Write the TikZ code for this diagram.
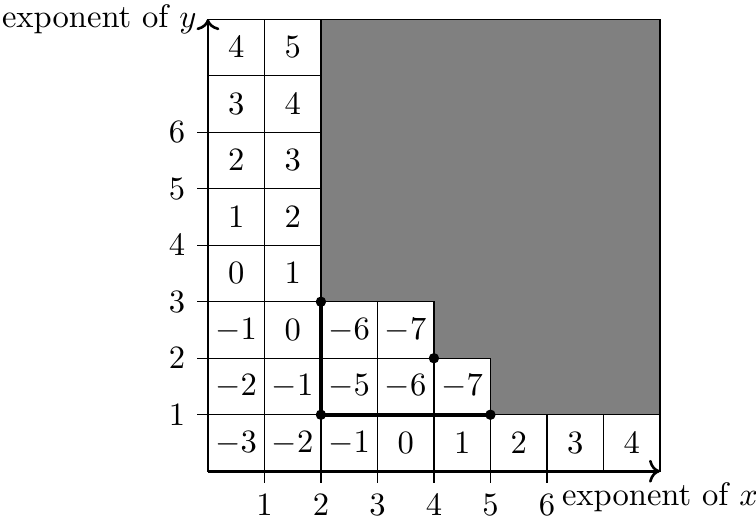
\documentclass[tikz,border=0pt]{standalone}
\usepackage{amsmath,amssymb}
\usetikzlibrary{arrows.meta, calc}

\begin{document}
\begin{tikzpicture}[x=0.61cm, y=0.61cm,
    cell/.style={draw, minimum size=0.61cm, inner sep=0pt},
    dot/.style={circle, fill, inner sep=0pt, minimum size=3.2pt}]
  \useasboundingbox (-3.68,-0.81) rectangle (9.70,8.34);

  % Shaded region
  \fill[gray] (2,8) -- (8,8) -- (8,1) -- (5,1) -- (5,2) -- (4,2) -- (4,3)
    -- (2,3) -- cycle;
  \draw (2,8) -- (8,8) -- (8,0);

  % Cells along the axes
  \foreach \y in {0,...,7} {
    \foreach \x in {0,1} {
      \pgfmathtruncatemacro{\v}{\x+\y-3}
      \node[cell] (c\x\y) at (\x+0.5,\y+0.5) {$\v$};
    }
  }
  \foreach \x in {2,...,7} {
    \pgfmathtruncatemacro{\v}{\x-3}
    \node[cell] (c\x0) at (\x+0.5,0.5) {$\v$};
  }
  % Inner cells
  \foreach \x/\y/\v in {2/1/-5, 3/1/-6, 4/1/-7, 2/2/-6, 3/2/-7}
    \node[cell] (c\x\y) at (\x+0.5,\y+0.5) {$\v$};

  % Axes
  \coordinate (O) at (0,0);
  \coordinate (xend) at (8,0);
  \coordinate (yend) at (0,8);
  \draw[thick, ->] (O) -- (xend);
  \draw[thick, ->] (O) -- (yend);
  \node[below] (xlab) at (xend) {exponent of $x$};
  \node[left] (ylab) at (yend) {exponent of $y$};
  \foreach \i in {1,...,6} {
    \draw (\i,0) -- (\i,-0.2) node[below] (xt\i) {$\i$};
    \draw (0,\i) -- (-0.2,\i) node[left] (yt\i) {$\i$};
  }

  % Staircase corners
  \coordinate (A) at (2,3);
  \coordinate (B) at (2,1);
  \coordinate (C) at (5,1);
  \coordinate (D) at (4,2);
  \draw[very thick] (A) -- (B) -- (C);
  \foreach \p in {A,B,C,D}
    \node[dot] (d\p) at (\p) {};
\end{tikzpicture}
\end{document}
